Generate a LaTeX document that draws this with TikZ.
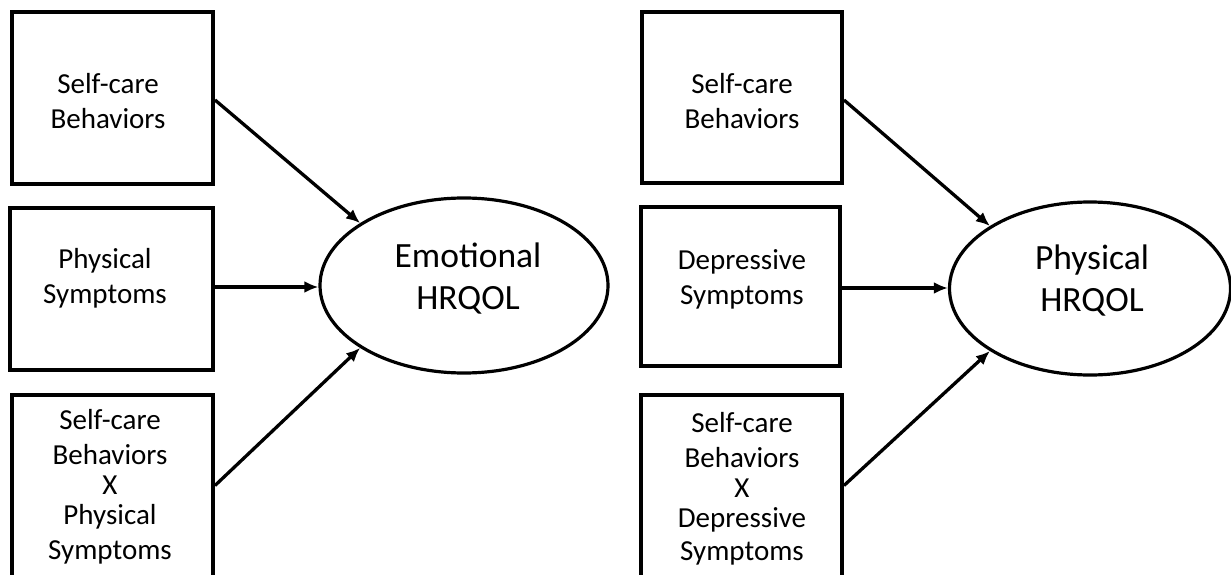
\documentclass[tikz,border=0pt]{standalone}
\usepackage{fontspec}
\setmainfont{Carlito}
\usetikzlibrary{shapes.geometric,arrows.meta,calc}
\tikzset{
  box/.style={draw=black, line width=4pt, rectangle, inner sep=0pt},
  lbl/.style={align=center, inner sep=0pt, font=\fontsize{29}{35}\selectfont},
  oval/.style={draw=black, line width=3.2pt, ellipse, inner sep=0pt},
  olbl/.style={align=center, inner sep=0pt, font=\fontsize{35.5}{42}\selectfont},
  arr/.style={line width=3.3pt, -{Latex[length=14pt,width=12pt]}}
}
\begin{document}
\begin{tikzpicture}[x=1pt,y=-1pt]
\useasboundingbox (0,0) rectangle (1231,575);
\clip (0,0) rectangle (1231,575);
\fill[white] (0,0) rectangle (1231,575);
% left panel
\node[box, minimum width=201pt, minimum height=172pt] (l1) at (112.5,98) {};
\node[box, minimum width=203pt, minimum height=162pt] (l2) at (111.5,289) {};
\node[box, minimum width=201pt, minimum height=205pt] (l3) at (112.5,497.5) {};
\node[lbl] (t1) at (108,101) {Self-care\\Behaviors};
\node[lbl] (t2) at (105,278) {Physical\\Symptoms};
\node[lbl] (t3) at (110,487) {Self-care\\Behaviors\\[-5pt]X\\[-5pt]Physical\\Symptoms};
\node[oval, minimum width=288pt, minimum height=175pt] (e1) at (464,285.5) {};
\node[olbl] (te1) at (468,279) {Emotional\\HRQOL};
\coordinate (l1o) at ($(l1.east)+(0,2)$);
\coordinate (l2o) at ($(l2.east)+(0,-2)$);
\coordinate (l3o) at ($(l3.east)+(0,-12)$);
\draw[arr] (l1o) -- (e1.149);
\draw[arr] (l2o) -- (e1.west |- l2o);
\draw[arr] (l3o) -- (e1.211);
% right panel
\node[box, minimum width=200pt, minimum height=171pt] (r1) at (742,97.5) {};
\node[box, minimum width=199pt, minimum height=159pt] (r2) at (740.5,286.5) {};
\node[box, minimum width=201pt, minimum height=205pt] (r3) at (741.5,497.5) {};
\node[lbl] (s1) at (742,101) {Self-care\\Behaviors};
\node[lbl] (s2) at (742,279) {Depressive\\Symptoms};
\node[lbl] (s3) at (742,489) {Self-care\\Behaviors\\[-5pt]X\\[-5pt]Depressive\\[-2pt]Symptoms};
\node[oval, minimum width=281pt, minimum height=173pt] (e2) at (1090,288.5) {};
\node[olbl] (te2) at (1092,281) {Physical\\HRQOL};
\coordinate (r1o) at ($(r1.east)+(0,2.5)$);
\coordinate (r2o) at ($(r2.east)+(0,1.5)$);
\coordinate (r3o) at ($(r3.east)+(0,-12)$);
\draw[arr] (r1o) -- (e2.148);
\draw[arr] (r2o) -- (e2.west |- r2o);
\draw[arr] (r3o) -- (e2.212);
\end{tikzpicture}
\end{document}
